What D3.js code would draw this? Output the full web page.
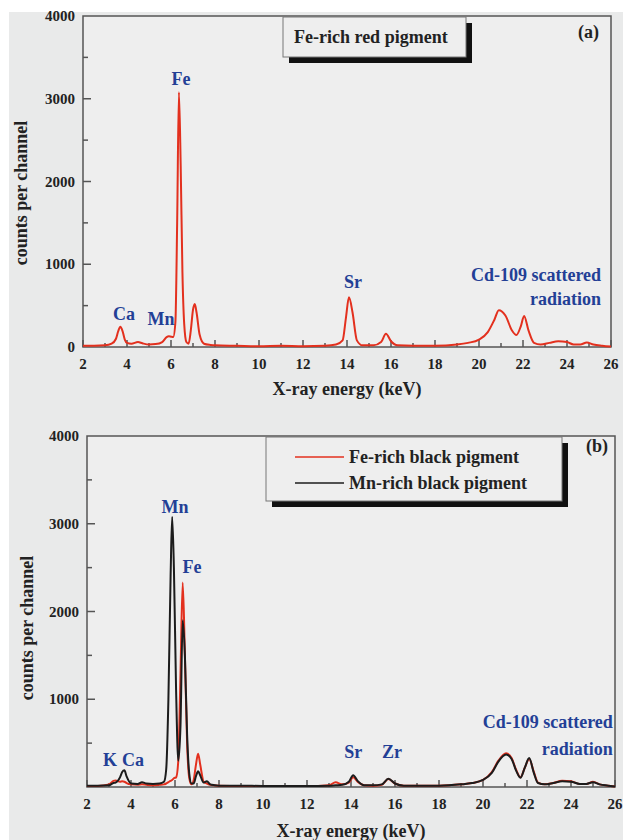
<!DOCTYPE html>
<html>
<head>
    <title>XRF spectra of pigments</title>
</head>
<meta charset="utf-8">
<style>
body {
    margin: 0;
    background: #fff;
    font-family: "Liberation Serif", "Times New Roman", serif;
}
.tick-label {
    font-weight: bold;
    font-size: 15px;
    fill: #222;
}
.axis-title {
    font-weight: bold;
    font-size: 18px;
    fill: #222;
}
.peak {
    font-weight: bold;
    font-size: 18px;
    fill: #233f96;
}
</style>
<body>
    <script src="https://cdnjs.cloudflare.com/ajax/libs/d3/7.8.5/d3.min.js"></script>
    <script>
    // ---- data ----
    // panel (a): Fe-rich red pigment
    var energyA = [2.0, 2.5, 3.0, 3.3, 3.5, 3.6, 3.7, 3.8, 3.9, 4.0, 4.2, 4.5, 4.7, 5.0, 5.3, 5.6, 5.8, 5.9, 6.0, 6.1,
        6.2, 6.28, 6.36, 6.44, 6.52, 6.6, 6.7, 6.8, 6.9, 7.0, 7.08, 7.16, 7.3, 7.5, 7.8, 8.0, 9.0, 10.0, 11.0, 12.0,
        13.0, 13.5, 13.8, 13.95, 14.09, 14.25, 14.45, 14.7, 15.2, 15.55, 15.77, 16.0, 16.3, 17.0, 18.0, 19.0, 19.5,
        20.0, 20.4, 20.7, 20.9, 21.2, 21.5, 21.7, 21.9, 22.05, 22.25, 22.5, 22.8, 23.2, 23.6, 24.0, 24.3, 24.6, 24.9,
        25.2, 25.6, 26.0];
    var countsA = [15, 15, 20, 40, 100, 190, 245, 190, 90, 50, 40, 60, 45, 30, 35, 60, 120, 130, 125, 120,
        300, 1500, 3080, 2200, 900, 280, 60, 40, 200, 450, 520, 420, 150, 40, 25, 20, 15, 10, 15, 10,
        15, 30, 80, 350, 600, 420, 80, 20, 20, 60, 160, 70, 20, 15, 15, 30, 50,
        90, 180, 330, 445, 380, 200, 145, 250, 375, 200, 50, 30, 50, 70, 60, 30, 30, 55,
        30, 15, 5];

    // panel (b): Fe-rich and Mn-rich black pigments
    var energyB = [2.0, 2.5, 3.0, 3.2, 3.3, 3.5, 3.6, 3.7, 3.8, 4.0, 4.3, 4.5, 4.7, 5.0, 5.3, 5.5, 5.6, 5.7, 5.8, 5.87,
        5.95, 6.05, 6.15, 6.25, 6.35, 6.45, 6.55, 6.65, 6.75, 6.85, 6.95, 7.05, 7.15, 7.3, 7.45, 7.6, 7.8, 8.0, 9.0,
        10.0, 11.0, 12.0, 13.0, 13.3, 13.6, 13.9, 14.1, 14.3, 14.6, 15.0, 15.4, 15.7, 16.0, 16.4, 17.0, 18.0, 19.0,
        19.5, 20.0, 20.4, 20.7, 21.05, 21.3, 21.5, 21.7, 21.9, 22.1, 22.3, 22.5, 22.8, 23.2, 23.6, 24.0, 24.4, 24.7,
        25.0, 25.3, 25.7, 26.0];
    var countsFeBlack = [10, 12, 30, 70, 75, 60, 65, 60, 45, 30, 25, 30, 25, 20, 25, 30, 40, 55, 70, 80,
        100, 110, 300, 1300, 2330, 1500, 500, 100, 30, 80, 250, 380, 250, 60, 40, 25, 20, 15, 12,
        10, 10, 10, 20, 55, 30, 50, 110, 60, 20, 15, 25, 90, 40, 15, 15, 15, 30,
        45, 80, 170, 300, 385, 330, 200, 110, 220, 320, 180, 50, 30, 45, 70, 65, 35, 35,
        60, 30, 15, 5];
    var countsMnBlack = [15, 15, 20, 45, 50, 110, 170, 190, 120, 40, 35, 55, 40, 35, 40, 60, 200, 1000, 2400, 3080,
        2500, 1100, 300, 700, 1900, 1500, 600, 150, 40, 40, 120, 180, 130, 50, 65, 30, 20, 15, 15,
        12, 12, 10, 15, 20, 25, 60, 135, 70, 20, 20, 30, 95, 40, 15, 15, 15, 30,
        45, 80, 160, 290, 370, 320, 190, 105, 220, 330, 170, 45, 30, 45, 65, 60, 35, 35,
        55, 30, 15, 5];

    var seriesNames = ["Fe-rich black pigment", "Mn-rich black pigment"];
    var xTicks = [2, 4, 6, 8, 10, 12, 14, 16, 18, 20, 22, 24, 26];
    var yTicksA = [0, 1000, 2000, 3000, 4000];
    var yTicksB = [1000, 2000, 3000, 4000];

    // peak labels: [text, energy, counts at baseline, anchor]
    var labelsA = [["Fe", 6.45, 3170, "middle"], ["Ca", 3.86, 326, "middle"], ["Mn", 5.55, 265, "middle"],
        ["Sr", 14.27, 712, "middle"], ["Cd-109 scattered", 25.55, 797, "end"], ["radiation", 25.55, 507, "end"]];
    var labelsB = [["Mn", 6.0, 3120, "middle"], ["Fe", 6.77, 2437, "middle"], ["K", 3.05, 240, "middle"],
        ["Ca", 4.09, 240, "middle"], ["Sr", 14.1, 330, "middle"], ["Zr", 15.86, 330, "middle"],
        ["Cd-109 scattered", 25.9, 672, "end"], ["radiation", 25.9, 365, "end"]];

    var red = "#e3301e", black = "#1c1c1c";

    var svg = d3.select("body").append("svg")
        .attr("width", 623)
        .attr("height", 840);

    // scanned page background
    svg.append("rect")
        .attr("x", 9).attr("y", 12)
        .attr("width", 614).attr("height", 828)
        .attr("fill", "#e9eaea");

    function zip(xs, ys) {
        return xs.map(function(x, i) { return [x, ys[i]]; });
    }

    // draws one panel frame with ticks and labels, returns scales
    function drawPanel(box, yTicks) {
        var x = d3.scaleLinear().domain([2, 26]).range([box.left, box.right]);
        var y = d3.scaleLinear().domain([0, 4000]).range([box.bottom, box.top]);
        var g = svg.append("g");

        g.append("rect")
            .attr("x", box.left).attr("y", box.top)
            .attr("width", box.right - box.left)
            .attr("height", box.bottom - box.top)
            .attr("fill", "#eeeeee")
            .attr("stroke", "#555")
            .attr("stroke-width", 1.5);

        // inward ticks on x axis, major every 2 keV
        d3.range(2, 27, 1).forEach(function(e) {
            var len = e % 2 === 0 ? 7 : 4;
            g.append("line")
                .attr("x1", x(e)).attr("x2", x(e))
                .attr("y1", box.bottom).attr("y2", box.bottom - len)
                .attr("stroke", "#555").attr("stroke-width", 1.5);
        });
        // inward ticks on y axis
        d3.range(500, 4000, 500).forEach(function(c) {
            var len = c % 1000 === 0 ? 8 : 5;
            g.append("line")
                .attr("x1", box.left).attr("x2", box.left + len)
                .attr("y1", y(c)).attr("y2", y(c))
                .attr("stroke", "#555").attr("stroke-width", 1.5);
        });

        g.selectAll(".xl").data(xTicks).enter().append("text")
            .attr("class", "tick-label")
            .attr("x", function(d) { return x(d); })
            .attr("y", box.bottom + 22)
            .style("text-anchor", "middle")
            .text(function(d) { return d; });

        g.selectAll(".yl").data(yTicks).enter().append("text")
            .attr("class", "tick-label")
            .attr("x", box.left - 8)
            .attr("y", function(d) { return y(d) + 5; })
            .style("text-anchor", "end")
            .text(function(d) { return d; });

        g.append("text")
            .attr("class", "axis-title")
            .attr("x", (box.left + box.right) / 2)
            .attr("y", box.xTitleY)
            .style("text-anchor", "middle")
            .text("X-ray energy (keV)");

        g.append("text")
            .attr("class", "axis-title")
            .attr("transform", "translate(" + box.yTitleX + "," + box.yTitleY + ") rotate(-90)")
            .style("text-anchor", "middle")
            .text("counts per channel");

        return {x: x, y: y};
    }

    function drawSpectrum(s, pts, color) {
        var line = d3.line()
            .x(function(d) { return s.x(d[0]); })
            .y(function(d) { return s.y(d[1]); })
            .curve(d3.curveMonotoneX);
        svg.append("path")
            .datum(pts)
            .attr("fill", "none")
            .attr("stroke", color)
            .attr("stroke-width", 2)
            .attr("stroke-linejoin", "round")
            .attr("d", line);
    }

    function drawLabels(s, labels) {
        svg.selectAll(null).data(labels).enter().append("text")
            .attr("class", "peak")
            .attr("x", function(d) { return s.x(d[1]); })
            .attr("y", function(d) { return s.y(d[2]); })
            .style("text-anchor", function(d) { return d[3]; })
            .text(function(d) { return d[0]; });
    }

    // box with drop shadow
    function shadowBox(x0, y0, x1, y1) {
        svg.append("rect")
            .attr("x", x0 + 6).attr("y", y0 + 6)
            .attr("width", x1 - x0).attr("height", y1 - y0)
            .attr("fill", "#111");
        svg.append("rect")
            .attr("x", x0).attr("y", y0)
            .attr("width", x1 - x0).attr("height", y1 - y0)
            .attr("fill", "#eeeeee")
            .attr("stroke", "#777").attr("stroke-width", 1);
    }

    // ---- panel (a) ----
    var sA = drawPanel({left: 83, right: 611, top: 16, bottom: 347, xTitleY: 395, yTitleX: 27, yTitleY: 193}, yTicksA);
    drawSpectrum(sA, zip(energyA, countsA), red);
    drawLabels(sA, labelsA);
    shadowBox(283, 17, 466, 57);
    svg.append("text").attr("class", "axis-title")
        .attr("x", 294).attr("y", 43).text("Fe-rich red pigment");
    svg.append("text").attr("class", "axis-title")
        .attr("x", 599).attr("y", 38).style("text-anchor", "end").text("(a)");

    // ---- panel (b) ----
    var sB = drawPanel({left: 87, right: 615, top: 436, bottom: 787, xTitleY: 837, yTitleX: 33, yTitleY: 628}, yTicksB);
    drawSpectrum(sB, zip(energyB, countsFeBlack), red);
    drawSpectrum(sB, zip(energyB, countsMnBlack), black);
    drawLabels(sB, labelsB);

    shadowBox(266, 437, 562, 501);
    [red, black].forEach(function(c, i) {
        svg.append("line")
            .attr("x1", 295).attr("x2", 344)
            .attr("y1", 457 + i * 26).attr("y2", 457 + i * 26)
            .attr("stroke", c).attr("stroke-width", 1.5);
        svg.append("text").attr("class", "axis-title")
            .attr("x", 349).attr("y", 463 + i * 26).text(seriesNames[i]);
    });
    svg.append("text").attr("class", "axis-title")
        .attr("x", 608).attr("y", 452).style("text-anchor", "end").text("(b)");
    </script>
</body>
</html>
